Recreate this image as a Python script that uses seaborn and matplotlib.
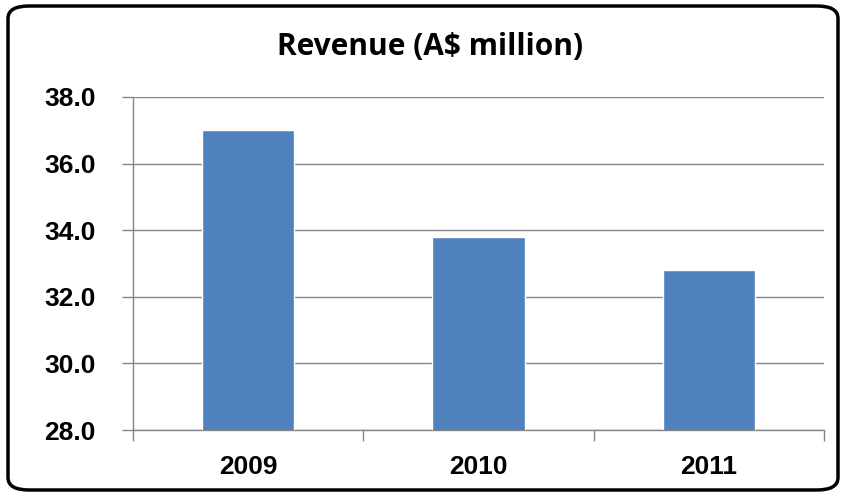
import matplotlib
matplotlib.use("Agg")
import matplotlib.pyplot as plt
import seaborn as sns
import pandas as pd
from matplotlib.patches import FancyBboxPatch

years = ["2009", "2010", "2011"]
revenue = [37.0, 33.8, 32.8]
yticks = [28.0, 30.0, 32.0, 34.0, 36.0, 38.0]
title = "Revenue (A$ million)"

sns.set_theme(style="white")
plt.rcParams['font.family'] = ['Liberation Sans', 'DejaVu Sans']

df = pd.DataFrame({"year": years, "revenue": revenue})

fig = plt.figure(figsize=(8.46, 4.96), dpi=100)
ax = fig.add_axes([133/846, 1 - 430/496, (824-133)/846, (430-97)/496])

sns.barplot(data=df, x="year", y="revenue", color="#4F81BD", saturation=1,
            width=0.4, ax=ax, zorder=3)

ax.set_ylim(28, 38)
ax.set_xlim(-0.5, 2.5)
ax.set_yticks(yticks)
ax.set_yticklabels([f"{v:.1f}" for v in yticks], fontsize=19, fontweight="bold", color="black")
ax.set_xticks(range(len(years)))
ax.set_xticklabels(years, fontsize=19, fontweight="bold", color="black")
ax.tick_params(axis="x", which="major", length=0, pad=18)
ax.set_xticks([-0.5, 0.5, 1.5, 2.5], minor=True)
ax.tick_params(axis="x", which="minor", length=8, color="#868686", width=1, direction="out", bottom=True)
ax.tick_params(axis="y", length=8, color="#868686", width=1, direction="out", left=True, pad=19)
ax.yaxis.grid(True, color="#868686", linewidth=1, zorder=0)
ax.set_axisbelow(True)
ax.set_xlabel("")
ax.set_ylabel("")
for s in ["top", "right"]:
    ax.spines[s].set_visible(False)
for s in ["left", "bottom"]:
    ax.spines[s].set_color("#868686")
    ax.spines[s].set_linewidth(1)

fig.text(430/846, 1 - 47/496, title, ha="center", va="center", fontsize=21.5,
         fontweight="bold", color="black", family=["Open Sans", "DejaVu Sans"])

box = FancyBboxPatch((8/846, 6/496), (838-8)/846, (490-6)/496,
                     boxstyle="round,pad=0,rounding_size=0.025",
                     transform=fig.transFigure, fill=False, edgecolor="black",
                     linewidth=2.5, zorder=10)
fig.patches.append(box)

fig.savefig("out.png", dpi=100)
